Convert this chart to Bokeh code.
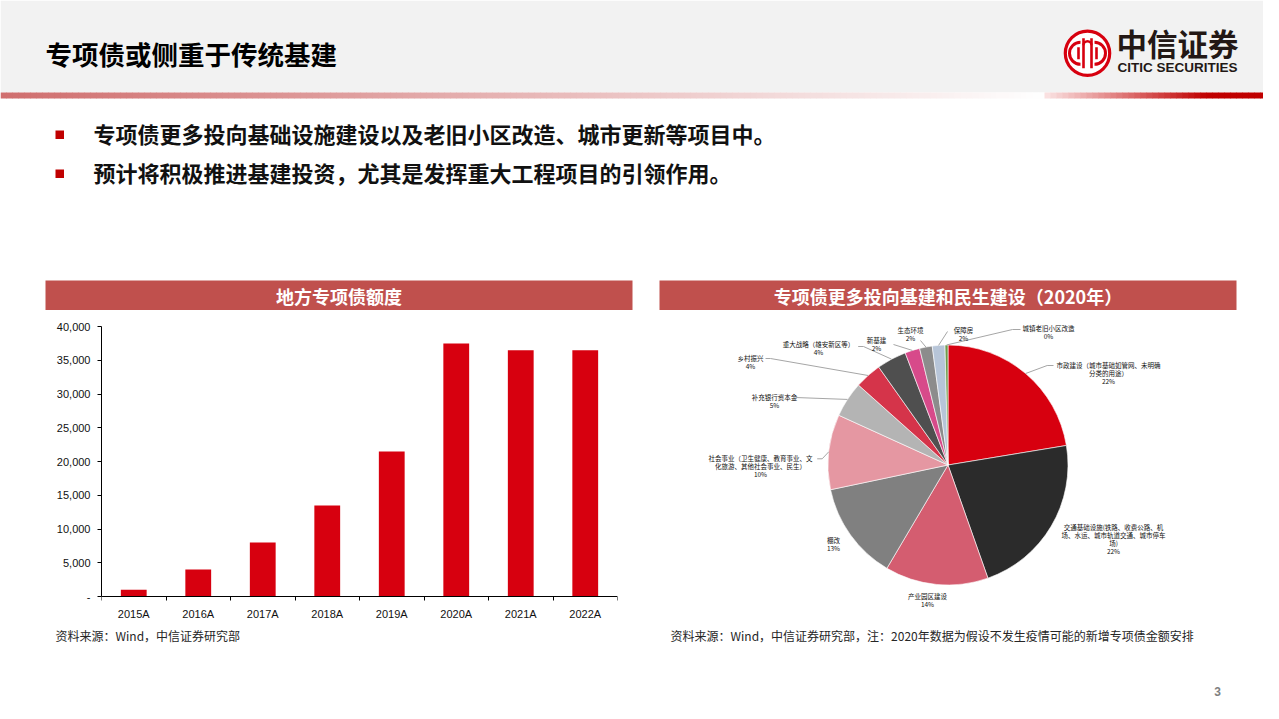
import numpy as np
from bokeh.plotting import figure
from bokeh.layouts import column, row
from bokeh.models import Range1d, FixedTicker, NumeralTickFormatter, ColumnDataSource
from bokeh.core.properties import value
from bokeh.embed import file_html
from bokeh.resources import INLINE

# ---------------- data ----------------
years = ["2015A", "2016A", "2017A", "2018A", "2019A", "2020A", "2021A", "2022A"]
quota = [1000, 4000, 8000, 13500, 21500, 37500, 36500, 36500]
y_ticks = [0, 5000, 10000, 15000, 20000, 25000, 30000, 35000, 40000]

pie_names = [
    "市政建设（城市基础如管网、未明确分类的用途）",
    "交通基础设施(铁路、收费公路、机场、水运、城市轨道交通、城市停车场)",
    "产业园区建设",
    "棚改",
    "社会事业（卫生健康、教育事业、文化旅游、其他社会事业、民生）",
    "补充银行资本金",
    "乡村振兴",
    "重大战略（雄安新区等）",
    "新基建",
    "生态环境",
    "保障房",
    "城镇老旧小区改造",
]
pie_shares = [22.4, 22.2, 13.9, 13.2, 10.1, 4.8, 3.6, 4.0, 2.0, 1.7, 1.7, 0.4]

title = "专项债或侧重于传统基建"
bullets = ["专项债更多投向基础设施建设以及老旧小区改造、城市更新等项目中。",
           "预计将积极推进基建投资，尤其是发挥重大工程项目的引领作用。"]
left_title = "地方专项债额度"
right_title = "专项债更多投向基建和民生建设（2020年）"
left_source = "资料来源：Wind，中信证券研究部"
right_source = "资料来源：Wind，中信证券研究部，注：2020年数据为假设不发生疫情可能的新增专项债金额安排"

# ---------------- styles ----------------
pie_colors = ["#d7000f", "#2b2b2b", "#d45d70", "#808080", "#e597a2", "#b4b4b4",
              "#d5344a", "#4f4f4f", "#d74a8a", "#8c8c8c", "#b7c5d8", "#6e9a4c"]
CJK = value("Noto Sans CJK SC")
LAT = value("Liberation Sans")
RED = "#d7000f"
W = 1263


def deco_fig(w, h, x0, x1, y0, y1, **kw):
    p = figure(width=w, height=h, x_range=Range1d(x0, x1), y_range=Range1d(-y1, -y0),
               output_backend="svg", toolbar_location=None,
               x_axis_location=None, y_axis_location=None, min_border=0,
               outline_line_color=None, **kw)
    p.grid.visible = False
    p.background_fill_color = "white"
    p.border_fill_color = "white"
    return p


def txt(p, x, y, s, size, color="#000000", bold=False, align="left", font=CJK):
    p.text(x=[x], y=[-y], text=[s], text_font=font, text_font_size=size,
           text_font_style="bold" if bold else "normal", text_color=color,
           text_align=align, text_baseline="middle")


# ---------------- top part (header, bullets, panel titles) ----------------
top = deco_fig(W, 310, 0, W, 0, 310)
top.quad(left=[0], right=[W], top=[0], bottom=[-92], fill_color="#f2f2f2", line_color=None)

# gradient rule under header
gl, gr, gc = [], [], []
step = 6
for xs in range(0, W, step):
    xm = xs + step / 2
    if xm < 1042:
        t = xm / 1042
        c = (int(208 + 47 * t), int(110 + 145 * t), int(110 + 145 * t))
    elif xm < 1206:
        t = (xm - 1042) / (1206 - 1042)
        c = (int(252 - 60 * t), int(232 - 232 * t), int(232 - 232 * t))
    else:
        c = (192, 0, 0)
    gl.append(xs)
    gr.append(xs + step + 0.5)
    gc.append("#%02x%02x%02x" % c)
top.quad(left=gl, right=gr, top=[-92] * len(gl), bottom=[-98] * len(gl), fill_color=gc, line_color=None)

txt(top, 45, 52.5, title, "26.5px", "#000000", True)

# logo
cx, cy = 1087, 52.8
top.circle(x=[cx], y=[-cy], radius=22.2, fill_color="white", line_color=RED, line_width=3.2)
top.arc(x=[cx - 7], y=[-cy], radius=11, start_angle=np.pi / 2, end_angle=3 * np.pi / 2,
        line_color=RED, line_width=3)
top.arc(x=[cx + 7], y=[-cy], radius=11, start_angle=-np.pi / 2, end_angle=np.pi / 2,
        line_color=RED, line_width=3)
top.segment(x0=[cx - 4, cx + 4, cx - 9, cx + 9], y0=[-(cy - 15), -(cy - 15), -(cy - 6), -(cy - 6)],
            x1=[cx - 4, cx + 4, cx - 9, cx + 9], y1=[-(cy + 15), -(cy + 15), -(cy + 6), -(cy + 6)],
            line_color=RED, line_width=2.6)
top.arc(x=[cx], y=[-(cy - 8)], radius=4, start_angle=0, end_angle=np.pi, line_color=RED, line_width=2.4)
txt(top, 1116, 42, "中信证券", "30.5px", "#231815", True)
txt(top, 1117, 66.5, "CITIC SECURITIES", "13.5px", "#231815", True, font=LAT)

# bullets
for b, ty in zip(bullets, [132, 171]):
    top.quad(left=[55], right=[63.5], top=[-(ty - 2)], bottom=[-(ty + 6.5)], fill_color="#c00000", line_color=None)
    txt(top, 93, ty, b, "22px", "#111111", True)

# panel title bars
top.quad(left=[45, 659], right=[632, 1236], top=[-280, -280], bottom=[-311, -311],
         fill_color="#c0504d", line_color=None)
txt(top, 338.5, 295.5, left_title, "18px", "white", True, "center")
txt(top, 947.5, 295.5, right_title, "18px", "white", True, "center")

# ---------------- bar chart ----------------
# middle band spans Y 310..625 ; frames span Y 318..625 ; value 0 at Y 596, 40000 at Y 326
band_top, frame_top, frame_bot = 310, 318, 625
zero_px, top_px, ymax = 596, 326, y_ticks[-1]
upp = ymax / (zero_px - top_px)
pb = figure(width=646, height=frame_bot - band_top,
            x_range=Range1d(-0.5, len(years) - 0.5),
            y_range=Range1d(-(frame_bot - zero_px) * upp, ymax + (top_px - frame_top) * upp),
            output_backend="svg", toolbar_location=None,
            min_border_left=101, min_border_right=29, min_border_top=frame_top - band_top,
            min_border_bottom=0, outline_line_color=None)
pb.background_fill_color = "white"
pb.border_fill_color = "white"
pb.grid.visible = False
pb.vbar(x=list(range(len(years))), top=quota, width=0.4, fill_color=RED, line_color=None)

xa = pb.xaxis[0]
xa.fixed_location = 0
xa.ticker = FixedTicker(ticks=list(range(len(years))), minor_ticks=[i - 0.5 for i in range(len(years) + 1)])
xa.major_label_overrides = {i: y for i, y in enumerate(years)}
xa.major_tick_out = 0
xa.major_tick_in = 0
xa.minor_tick_out = 4
xa.minor_tick_in = 0
xa.minor_tick_line_color = "#000000"
xa.axis_line_color = "#000000"
xa.major_label_standoff = 7
xa.major_label_text_font = "Liberation Sans"
xa.major_label_text_font_size = "11px"
xa.major_label_text_color = "#111111"

ya = pb.yaxis[0]
ya.bounds = (0, ymax)
ya.ticker = FixedTicker(ticks=y_ticks)
ya.formatter = NumeralTickFormatter(format="0,0")
ya.major_label_overrides = {0: "-"}
ya.major_tick_out = 4
ya.major_tick_in = 0
ya.major_tick_line_color = "#000000"
ya.axis_line_color = "#000000"
ya.major_label_standoff = 7
ya.major_label_text_font = "Liberation Sans"
ya.major_label_text_font_size = "11px"
ya.major_label_text_color = "#111111"

# ---------------- pie chart ----------------
pp = figure(width=W - 646, height=frame_bot - band_top, x_range=Range1d(646, W),
            y_range=Range1d(-frame_bot, -frame_top),
            output_backend="svg", toolbar_location=None,
            x_axis_location=None, y_axis_location=None,
            min_border_left=0, min_border_right=0, min_border_top=frame_top - band_top,
            min_border_bottom=0, outline_line_color=None)
pp.grid.visible = False
pp.background_fill_color = "white"
pp.border_fill_color = "white"

pcx, pcy, pr = 947.5, 464.5, 120
shares = np.array(pie_shares, dtype=float)
frac = shares / shares.sum()
c1 = np.cumsum(frac)
c0 = c1 - frac
src = ColumnDataSource(dict(
    start=np.pi / 2 - 2 * np.pi * c0,
    end=np.pi / 2 - 2 * np.pi * c1,
    color=pie_colors,
))
pp.wedge(x=pcx, y=-pcy, radius=pr, start_angle="start", end_angle="end", direction="clock",
         fill_color="color", line_color="white", line_width=0.6, source=src)

# label layout: centre of first line (X, Y) and leader path after the edge point
label_pos = [(1108, 364), (1113, 526), (927, 595), (833, 539), (760, 457.7), (774, 396),
             (750, 357.7), (818, 343), (876, 339), (910, 329), (963, 329), (1048, 327)]
leader_tail = [[(1046.7, 365), (1053, 365)], None, None, None,
               [(821.7, 458.3), (816.7, 458.3)], [(795, 397)],
               [(770, 358), (765, 358)], [(863, 346), (857.7, 346)], [(893, 344)],
               [(920, 340)], [(947, 331)], [(1012, 329), (1020, 329)]]

lx, ly = [], []
for i, tail in enumerate(leader_tail):
    if tail is None:
        continue
    mid = 2 * np.pi * (c0[i] + c1[i]) / 2
    ex = pcx + pr * np.sin(mid)
    ey = pcy - pr * np.cos(mid)
    pts = [(ex, ey)] + tail
    lx.append([p[0] for p in pts])
    ly.append([-p[1] for p in pts])
pp.multi_line(xs=lx, ys=ly, line_color="#a6a6a6", line_width=1)


def wrap(s, n=16):
    return [s[k:k + n] for k in range(0, len(s), n)]


tx, ty, tt = [], [], []
for i, name in enumerate(pie_names):
    lines = wrap(name) + ["%d%%" % int(round(shares[i]))]
    X, Y = label_pos[i]
    for j, ln in enumerate(lines):
        tx.append(X)
        ty.append(-(Y + 8 * j))
        tt.append(ln)
pp.text(x=tx, y=ty, text=tt, text_font=CJK, text_font_size="6.5px", text_color="#111111",
        text_align="center", text_baseline="middle")

# ---------------- bottom (sources, page number) ----------------
bot = deco_fig(W, 703 - frame_bot, 0, W, frame_bot, 703)
txt(bot, 55, 635, left_source, "12px", "#262626")
txt(bot, 670, 635, right_source, "12px", "#262626")
txt(bot, 1217, 691, "3", "12px", "#808080", True, "center", LAT)

layout = column(top, row(pb, pp, spacing=0), bot, spacing=0)
open("out.html", "w").write(file_html(layout, INLINE))
